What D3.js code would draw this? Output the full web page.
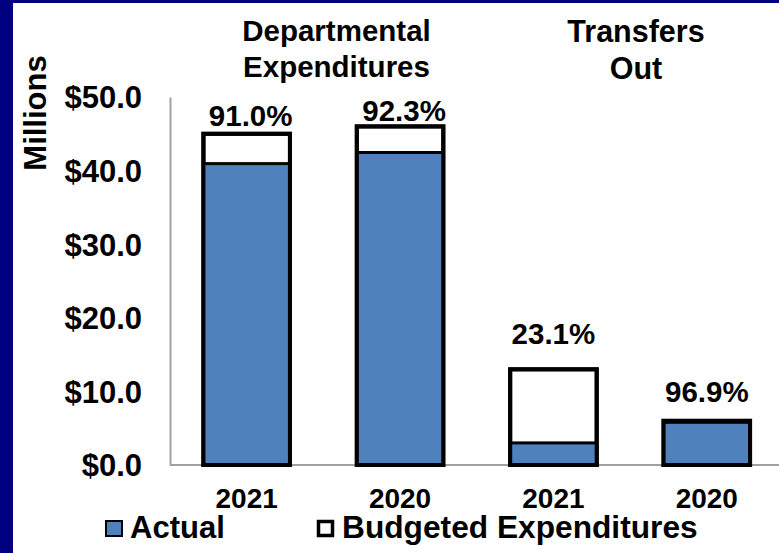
<!DOCTYPE html>
<html>
<head>
<meta charset="utf-8">
<script src="https://cdn.jsdelivr.net/npm/d3@7"></script>
<style>
  html, body { margin: 0; padding: 0; background: #fff; }
  svg { display: block; }
  text { font-family: "Liberation Sans", Arial, sans-serif; font-weight: bold; fill: #000; }
</style>
</head>
<body>
<script>
// ---- data ----
const categories = ["2021", "2020", "2021", "2020"];
const groups = ["Departmental Expenditures", "Transfers Out"];
const actual = [40.95, 42.46, 3.0, 5.8];
const budgeted = [45.0, 46.0, 13.0, 6.0];
const pctLabels = ["91.0%", "92.3%", "23.1%", "96.9%"];
const yTicks = [0, 10, 20, 30, 40, 50];
const legendLabels = ["Actual", "Budgeted Expenditures"];

// ---- layout ----
const W = 779, H = 553;
const svg = d3.select("body").append("svg").attr("width", W).attr("height", H);

// navy frame
svg.append("rect").attr("x", 0).attr("y", 0).attr("width", W).attr("height", H).attr("fill", "#000080");
svg.append("rect").attr("x", 13).attr("y", 3).attr("width", W - 13).attr("height", H - 3).attr("fill", "#fff");

const x = d3.scaleBand().domain(d3.range(categories.length)).range([170, 783.5]).paddingInner(0.436).paddingOuter(0.218);
const y = d3.scaleLinear().domain([0, 50]).range([465, 97]);

// axes
const yAxis = d3.axisLeft(y).tickValues(yTicks).tickSize(0).tickPadding(28)
  .tickFormat(d => "$" + d3.format(".1f")(d));
const gy = svg.append("g").attr("transform", "translate(170,0)").call(yAxis);
gy.select(".domain").attr("stroke", "#a0a0a0").attr("stroke-width", 2);
gy.selectAll("text").style("font-size", "31px").style("font-family", "'Liberation Sans', Arial, sans-serif").style("font-weight", "bold").attr("dy", "0.35em").attr("fill", "#000");

svg.append("line").attr("x1", 170).attr("x2", W).attr("y1", y(0)).attr("y2", y(0))
  .attr("stroke", "#a0a0a0").attr("stroke-width", 2);

// bars
const bars = svg.append("g");
categories.forEach((c, i) => {
  const bx = x(i), bw = x.bandwidth();
  bars.append("rect").attr("x", bx).attr("y", y(budgeted[i])).attr("width", bw)
    .attr("height", y(0) - y(budgeted[i])).attr("fill", "#fff").attr("stroke", "#000").attr("stroke-width", 4);
  bars.append("rect").attr("x", bx).attr("y", y(actual[i])).attr("width", bw)
    .attr("height", y(0) - y(actual[i])).attr("fill", "#4F81BD").attr("stroke", "#000").attr("stroke-width", 3);
  bars.append("rect").attr("x", bx).attr("y", y(budgeted[i])).attr("width", bw)
    .attr("height", y(0) - y(budgeted[i])).attr("fill", "none").attr("stroke", "#000").attr("stroke-width", 4);
});

// percentage labels
const labelGap = [8, 5, 25, 19];
const labelShift = [4, 4, 0, 0];
svg.append("g").selectAll("text").data(pctLabels).join("text")
  .attr("x", (d, i) => x(i) + x.bandwidth() / 2 + labelShift[i])
  .attr("y", (d, i) => y(budgeted[i]) - labelGap[i])
  .attr("text-anchor", "middle").style("font-size", "29.5px").text(d => d);

// category labels
svg.append("g").selectAll("text").data(categories).join("text")
  .attr("x", (d, i) => x(i) + x.bandwidth() / 2)
  .attr("y", 508).attr("text-anchor", "middle").style("font-size", "28px").text(d => d);

// group titles
const t1 = svg.append("text").attr("text-anchor", "middle").style("font-size", "29.5px");
t1.append("tspan").attr("x", 336.5).attr("y", 41).text("Departmental");
t1.append("tspan").attr("x", 336.5).attr("y", 77).text("Expenditures");
const t2 = svg.append("text").attr("text-anchor", "middle").style("font-size", "30.5px");
t2.append("tspan").attr("x", 636).attr("y", 42).text("Transfers");
t2.append("tspan").attr("x", 636).attr("y", 79).text("Out");

// y-axis title
svg.append("text").attr("transform", "translate(46,113) rotate(-90)")
  .attr("text-anchor", "middle").style("font-size", "31px").text("Millions");

// legend
const lg = svg.append("g");
lg.append("rect").attr("x", 106).attr("y", 521).attr("width", 16).attr("height", 15)
  .attr("fill", "#4F81BD").attr("stroke", "#000").attr("stroke-width", 2);
lg.append("text").attr("x", 130).attr("y", 538).style("font-size", "31px").text(legendLabels[0]);
lg.append("rect").attr("x", 318.5).attr("y", 521.5).attr("width", 14).attr("height", 14)
  .attr("fill", "#fff").attr("stroke", "#000").attr("stroke-width", 3.5);
lg.append("text").attr("x", 342).attr("y", 538).style("font-size", "31.7px").text(legendLabels[1]);
</script>
</body>
</html>
